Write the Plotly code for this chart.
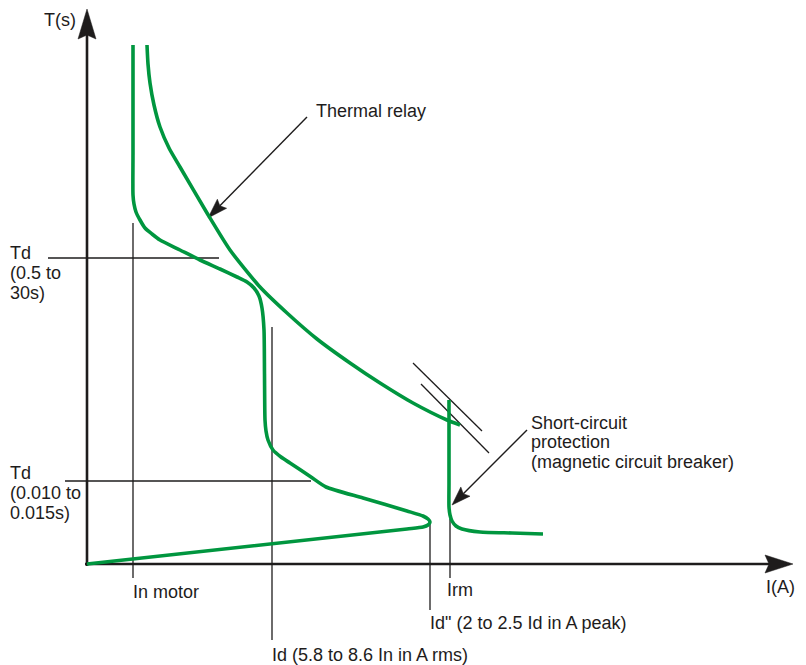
import numpy as np
import plotly.graph_objects as go

# ---- data (chart units: current I along x, time T along y, origin at axes crossing) ----
motor_x = [46, 46, 46, 46, 47, 49, 53, 58, 65, 73, 93, 113, 133, 150, 160, 167, 172, 175, 177, 177.5, 178, 179, 181, 186, 194, 203, 224, 239, 276, 320, 336, 341, 343, 341, 336, 320, 0]
motor_y = [519, 460, 410, 369, 360, 352, 344, 336, 330, 324, 314, 304, 295, 287, 282, 276, 268, 256, 234, 190, 144, 133, 124, 114, 107, 101, 87, 77, 66, 53, 48, 45, 42, 39, 37, 35, 0]

thermal_x = [60, 61, 63, 67, 73, 82, 93, 120, 143, 173, 200, 230, 263, 293, 326, 360, 373]
thermal_y = [519, 500, 481, 459, 437, 416, 397, 351, 314, 277, 251, 225, 201, 181, 161, 144, 139]

magnetic_x = [362, 362, 362, 362, 363, 365, 369, 375, 393, 425, 456]
magnetic_y = [164, 120, 80, 57, 49, 43, 38, 35, 32, 31, 30]

# reference marks: (x0, y0, x1, y1)
ref_lines = {
    "In motor": (46, 341, 46, -14),
    "Id": (185, 237, 185, -76),
    "Id2": (343, 41, 343, -46),
    "Irm": (363, 45, 363, -14),
    "Td1": (-39, 306, 132, 306),
    "Td2": (-22, 83, 224, 83),
    "tan1": (326, 201, 395, 133),
    "tan2": (334, 180, 402, 111),
}

# axes (tail, tip)
y_axis = ((0, -2), (0, 555))
x_axis = ((-2, 0), (706, 0))

# pointer arrows (tail, tip)
thermal_arrow = ((220, 447), (121, 346))
magnetic_arrow = ((440, 134), (365, 59))

labels = [
    ("T(s)", -44, 544),
    ("Thermal relay", 228, 453),
    ("Td", -78, 311), ("(0.5 to", -78, 291), ("30s)", -78, 271),
    ("Td", -78, 91), ("(0.010 to", -78, 71), ("0.015s)", -78, 51),
    ("Short-circuit", 443, 141), ("protection", 443, 122),
    ("(magnetic circuit breaker)", 443, 102),
    ("In motor", 45, -28),
    ("Irm", 359, -26),
    ("I(A)", 678, -23),
    ('Id" (2 to 2.5 Id in A peak)', 342, -59),
    ("Id (5.8 to 8.6 In in A rms)", 184, -91),
]

GREEN = "#00963f"
INK = "#1e1c1c"

fig = go.Figure()


def add_line(x, y, color, width, shape="linear"):
    fig.add_trace(go.Scatter(x=x, y=y, mode="lines", hoverinfo="skip",
                             line=dict(color=color, width=width, shape=shape,
                                       smoothing=0.6 if shape == "spline" else None)))


def add_arrow(tail, tip, lw, length, width, notch):
    tail = np.array(tail, float)
    tip = np.array(tip, float)
    u = (tip - tail) / np.linalg.norm(tip - tail)
    p = np.array([-u[1], u[0]])
    base = tip - u * length
    inner = tip - u * (length - notch)
    add_line([tail[0], inner[0]], [tail[1], inner[1]], INK, lw)
    pts = [tip, base + p * width / 2, inner, base - p * width / 2, tip]
    fig.add_trace(go.Scatter(x=[q[0] for q in pts], y=[q[1] for q in pts], mode="lines",
                             fill="toself", fillcolor=INK, hoverinfo="skip",
                             line=dict(color=INK, width=0.5)))


for key, (x0, y0, x1, y1) in ref_lines.items():
    add_line([x0, x1], [y0, y1], INK, 1.3)

add_arrow(*y_axis, 2.6, 30, 18, 4)
add_arrow(*x_axis, 2.6, 28, 18, 4)
add_arrow(*thermal_arrow, 1.4, 20, 13, 3)
add_arrow(*magnetic_arrow, 1.4, 19, 13, 3)

add_line(motor_x, motor_y, GREEN, 3.6, "spline")
add_line(thermal_x, thermal_y, GREEN, 3.6, "spline")
add_line(magnetic_x, magnetic_y, GREEN, 3.6, "spline")

for text, x, y in labels:
    fig.add_annotation(x=x, y=y, text=text, showarrow=False, xanchor="left", yanchor="middle",
                       font=dict(family="Liberation Sans, Arial, sans-serif", size=18, color=INK),
                       borderpad=0)

# page body has an 8px offset; ranges chosen so the drawing sits where the reference has it
fig.update_layout(
    width=806, height=665, showlegend=False,
    margin=dict(l=0, r=0, t=0, b=0),
    plot_bgcolor="white", paper_bgcolor="white",
    xaxis=dict(range=[-79, 727], visible=False, fixedrange=True),
    yaxis=dict(range=[-109, 556], visible=False, fixedrange=True),
)

fig.write_html("out.html")
